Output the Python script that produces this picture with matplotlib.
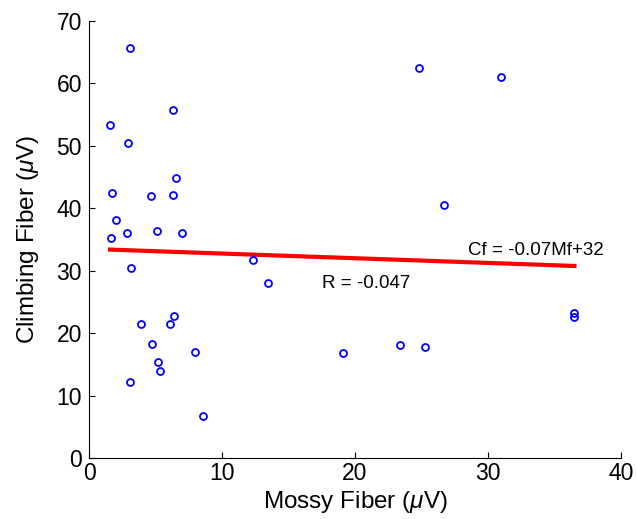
import matplotlib
matplotlib.use("Agg")
import matplotlib.pyplot as plt
import numpy as np

plt.rcParams['font.family'] = ['Liberation Sans', 'DejaVu Sans']
plt.rcParams['mathtext.fontset'] = 'custom'
plt.rcParams['mathtext.rm'] = 'Liberation Sans'
plt.rcParams['mathtext.it'] = 'Liberation Sans:italic'

mossy = [3.08, 6.29, 1.58, 2.93, 6.54, 1.75, 4.66, 6.29, 2.05, 2.83, 5.14, 6.99, 1.68,
         3.16, 12.35, 3.88, 6.39, 6.06, 4.74, 7.94, 5.21, 5.36, 3.08, 8.57,
         24.81, 31.0, 26.67, 13.43, 36.5, 36.45, 19.1, 23.4, 25.3]
climbing = [65.7, 55.8, 53.3, 50.5, 44.8, 42.4, 41.9, 42.2, 38.1, 36.0, 36.4, 36.0, 35.3,
            30.5, 31.7, 21.5, 22.8, 21.5, 18.3, 17.0, 15.3, 13.9, 12.1, 6.8,
            62.4, 61.1, 40.6, 28.0, 23.2, 22.6, 16.8, 18.1, 17.8]

fit_slope = -0.075
fit_intercept = 33.5
eq_text = "Cf = -0.07Mf+32"
r_text = "R = -0.047"

x_ticks = [0, 10, 20, 30, 40]
y_ticks = [0, 10, 20, 30, 40, 50, 60, 70]

fig = plt.figure(figsize=(6.37, 5.19), dpi=100)
ax = fig.add_axes([89/637, 1-458/519, (621-89)/637, (458-21)/519])

ax.plot(mossy, climbing, 'o', linestyle='none', markerfacecolor='none',
        markeredgecolor='#0000ff', markersize=5, markeredgewidth=1.3, zorder=3)

xf = np.array([min(mossy), max(mossy)])
ax.plot(xf, fit_slope * xf + fit_intercept, color='#ff0000', linewidth=3, zorder=2)

ax.text(28.5, 33.3, eq_text, fontsize=13.5, ha='left', va='center')
ax.text(17.5, 28.0, r_text, fontsize=13.5, ha='left', va='center')

ax.set_xlim(0, 40)
ax.set_ylim(0, 70)
ax.set_xticks(x_ticks)
ax.set_yticks(y_ticks)
ax.spines['top'].set_visible(False)
ax.spines['right'].set_visible(False)
ax.tick_params(direction='in', length=4, labelsize=16.5)
ax.tick_params(axis='x', pad=3)
ax.tick_params(axis='y', pad=5)
ax.set_xlabel(r"Mossy Fiber ($\mu$V)", fontsize=17.5, labelpad=3)
ax.set_ylabel(r"Climbing Fiber ($\mu$V)", fontsize=17.5, labelpad=11)

fig.savefig("out.png", dpi=100)
